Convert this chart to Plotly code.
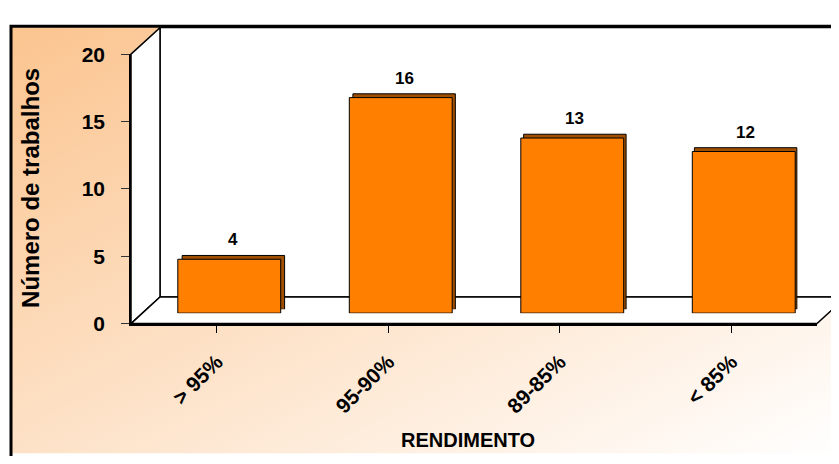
import base64
import plotly.graph_objects as go

categories = ["> 95%", "95-90%", "89-85%", "< 85%"]
counts = [4, 16, 13, 12]
y_ticks = [0, 5, 10, 15, 20]

OFF = 8  # page body margin that the figure sits inside
W, H = 839 - 2 * OFF, 464 - 2 * OFF
ORANGE = "#FF8000"
SIDE = "#A04F00"
FONT = "Arial, Liberation Sans, sans-serif"


def fx(px):
    return (px - OFF) / W


def fy(py):
    return 1 - (py - OFF) / H


# diagonal peach -> white background, inside the chart border
svg = (
    '<svg xmlns="http://www.w3.org/2000/svg" width="100" height="100" preserveAspectRatio="none">'
    '<defs><linearGradient id="g" x1="0" y1="0" x2="1" y2="1">'
    '<stop offset="0" stop-color="#FBC48F"/><stop offset="1" stop-color="#FFFFFF"/>'
    '</linearGradient></defs><rect width="100" height="100" fill="url(#g)"/></svg>'
)
bg_src = "data:image/svg+xml;base64," + base64.b64encode(svg.encode()).decode()

fig = go.Figure()

# invisible trace so the front axes get drawn
fig.add_trace(go.Scatter(
    x=categories, y=counts, xaxis="x", yaxis="y", mode="markers",
    marker=dict(opacity=0), hoverinfo="skip", showlegend=False,
))
# back face of the bars (gives the 3D top / side edge)
fig.add_trace(go.Bar(
    x=categories, y=counts, width=0.6, xaxis="x2", yaxis="y2",
    marker=dict(color=SIDE, line=dict(color="#000000", width=1)),
    hoverinfo="skip", showlegend=False,
))
# front face of the bars
fig.add_trace(go.Bar(
    x=categories, y=counts, width=0.6, xaxis="x3", yaxis="y3",
    marker=dict(color=ORANGE, line=dict(color="#000000", width=1)),
    showlegend=False,
))

annotations = [
    dict(x=c, y=v, xref="x2", yref="y2", text=f"<b>{v}</b>", showarrow=False,
         yanchor="bottom", yshift=4, font=dict(family=FONT, size=17, color="#000000"))
    for c, v in zip(categories, counts)
]
annotations += [
    dict(x=fx(31), y=fy(185), xref="paper", yref="paper", text="<b>Número de trabalhos</b>",
         textangle=-90, showarrow=False, xanchor="center", yanchor="middle",
         font=dict(family=FONT, size=24, color="#000000")),
    dict(x=fx(468), y=fy(451), xref="paper", yref="paper", text="<b>RENDIMENTO</b>",
         showarrow=False, xanchor="center", yanchor="middle",
         font=dict(family=FONT, size=20, color="#000000")),
]

edge = dict(color="#000000", width=1.5)


def path(pts):
    return "M" + " L".join(f"{fx(a):.5f},{fy(b):.5f}" for a, b in pts) + " Z"


shapes = [
    # back wall
    dict(type="path", xref="paper", yref="paper", layer="below", fillcolor="white", line=edge,
         path=path([(160, 16), (850, 16), (850, 300), (160, 300)])),
    # side wall
    dict(type="path", xref="paper", yref="paper", layer="below", fillcolor="white", line=edge,
         path=path([(131, 44), (160, 16), (160, 300), (131, 328)])),
    # floor
    dict(type="path", xref="paper", yref="paper", layer="below", fillcolor="white", line=edge,
         path=path([(131, 328), (160, 300), (846, 300), (817, 328)])),
    # chart border
    dict(type="rect", xref="paper", yref="paper", layer="above",
         x0=fx(11), y0=fy(14.5), x1=fx(860), y1=fy(480),
         line=dict(color="#000000", width=3), fillcolor="rgba(0,0,0,0)"),
]

fig.update_layout(
    width=W, height=H,
    margin=dict(l=0, r=0, t=0, b=0),
    paper_bgcolor="white",
    plot_bgcolor="rgba(0,0,0,0)",
    font=dict(family=FONT, color="#000000"),
    images=[dict(source=bg_src, xref="paper", yref="paper", x=fx(11), y=fy(14),
                 sizex=1 - fx(11) + 0.02, sizey=fy(14) + 0.02, sizing="stretch",
                 layer="below", xanchor="left", yanchor="top")],
    shapes=shapes,
    annotations=annotations,
    xaxis=dict(
        domain=[fx(131), fx(817)], range=[-0.5, 3.5], type="category",
        categoryarray=categories, categoryorder="array", anchor="y",
        showline=True, linecolor="#000000", linewidth=1.5,
        ticks="outside", ticklen=8, tickcolor="#000000", tickwidth=1,
        tickangle=-45, ticklabelstandoff=8,
        tickfont=dict(family=FONT, size=21, color="#000000"),
        showgrid=False, zeroline=False, fixedrange=True,
        tickvals=categories, ticktext=[f"<b>{c}</b>" for c in categories],
    ),
    yaxis=dict(
        domain=[fy(328), fy(44)], range=[0, 20], anchor="x",
        tickvals=y_ticks, ticktext=[f"<b>{t}</b>" for t in y_ticks],
        showline=True, linecolor="#000000", linewidth=1.5,
        ticks="outside", ticklen=8, tickcolor="#333333", tickwidth=1,
        ticklabelstandoff=12,
        tickfont=dict(family=FONT, size=21, color="#000000"),
        showgrid=False, zeroline=False, fixedrange=True,
    ),
    xaxis2=dict(domain=[fx(148), min(1, fx(834))], range=[-0.5, 3.5], type="category",
                categoryarray=categories, categoryorder="array", anchor="y2", visible=False),
    yaxis2=dict(domain=[fy(313), fy(29)], range=[0, 20], anchor="x2", visible=False),
    xaxis3=dict(domain=[fx(143.5), min(1, fx(829.5))], range=[-0.5, 3.5], type="category",
                categoryarray=categories, categoryorder="array", anchor="y3", visible=False),
    yaxis3=dict(domain=[fy(317), fy(33)], range=[0, 20], anchor="x3", visible=False),
)

fig.write_html("out.html")
